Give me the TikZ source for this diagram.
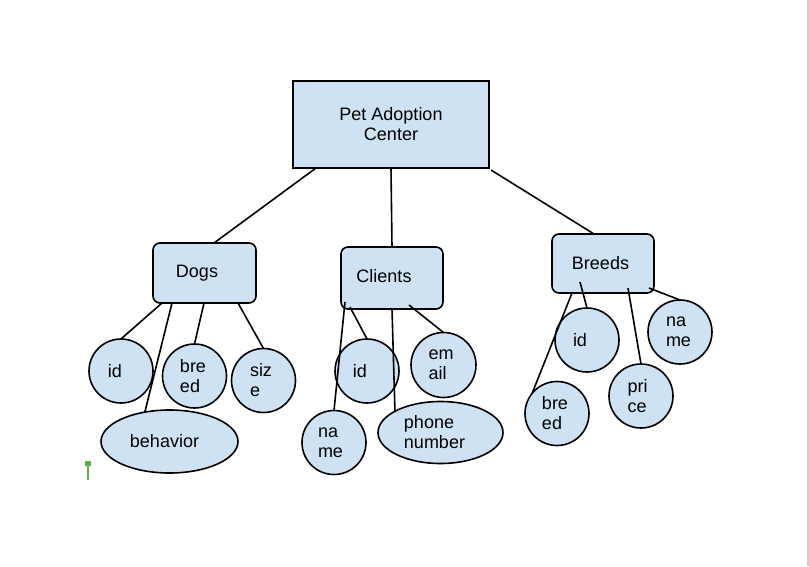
\documentclass[tikz,border=0pt]{standalone}
\usepackage{fontspec}
\setmainfont{Liberation Sans}
\usetikzlibrary{shapes.geometric}
\definecolor{boxfill}{HTML}{CFE2F3}
\definecolor{cursorgreen}{RGB}{88,178,72}
\definecolor{edgegrey}{RGB}{204,204,204}
\newcommand\lsh[1]{\hspace*{#1}}
\begin{document}
\begin{tikzpicture}[x=1pt,y=-1pt,
  every node/.style={font=\fontsize{18}{20}\selectfont, outer sep=0pt},
  rootbox/.style={draw=black, line width=1.6pt, fill=boxfill, minimum width=196pt, minimum height=87pt, align=center, inner sep=0pt},
  entity/.style={draw=black, line width=1.6pt, fill=boxfill, rounded corners=7pt, minimum width=102pt, minimum height=60pt, inner sep=0pt},
  attr/.style={draw=black, line width=1.6pt, fill=boxfill, circle, minimum size=64pt, inner sep=0pt, align=left},
  attrel/.style={draw=black, line width=1.6pt, fill=boxfill, ellipse, inner sep=0pt, align=left},
  link/.style={line width=1.6pt, black}]
\useasboundingbox (0,0) rectangle (809,566);
\fill[white] (0,0) rectangle (809,566);
\draw[edgegrey, line width=2pt] (808,0) -- (808,566);

% main boxes
\node[rootbox] (root) at (391,124.5) {Pet Adoption\\Center};
\node[entity, minimum width=103pt] (dogs) at (204.5,273) {\lsh{-15pt}\raisebox{-1.5pt}{Dogs}};
\node[entity, minimum height=62pt] (cli) at (392,278) {\lsh{-16pt}\raisebox{4pt}{Clients}};
\node[entity, minimum height=59pt] (brd) at (603,263.5) {\lsh{-5pt}\raisebox{-2.5pt}{Breeds}};

% Dogs attributes
\node[attr] (did) at (121,371) {\lsh{-12pt}id};
\node[attr] (dbreed) at (194.5,376) {\lsh{-3pt}bre\\\lsh{-3pt}ed};
\node[attr] (dsize) at (263.5,380.5) {\lsh{-5pt}siz\\\lsh{-5pt}e};
\node[attrel, minimum width=137pt, minimum height=63pt] (dbeh) at (169.5,441.5) {\lsh{-10pt}behavior};

% Clients attributes
\node[attr] (cname) at (334,442.5) {\lsh{-7pt}na\\\lsh{-7pt}me};
\node[attr] (cid) at (367,371) {\lsh{-14pt}id};
\node[attrel, minimum width=125pt, minimum height=62pt] (cphone) at (440.5,432.5) {\lsh{-12pt}phone\\\lsh{-12pt}number};
\node[attr, minimum size=65pt] (cemail) at (443.5,365) {\lsh{-5pt}em\\\lsh{-5pt}ail};

% Breeds attributes
\node[attr] (bid) at (587,340) {\lsh{-14pt}id};
\node[attr] (bbreed) at (557,413.5) {\lsh{-4pt}bre\\\lsh{-4pt}ed};
\node[attr] (bprice) at (641,396) {\lsh{-7pt}pri\\\lsh{-7pt}ce};
\node[attr] (bname) at (680,332) {\lsh{-3pt}na\\\lsh{-3pt}me};

% connectors from root
\draw[link] ([xshift=23pt]root.south west) -- ([xshift=61pt]dogs.north west);
\draw[link] (root.south) -- (cli.north);
\draw[link] ([xshift=2pt,yshift=-2pt]root.south east) -- ([xshift=42pt]brd.north west);

% Dogs connectors
\draw[link] ([xshift=9pt]dogs.south west) -- (did.north);
\draw[link] ([xshift=19pt]dogs.south west) -- (dbeh.130);
\draw[link] ([xshift=51pt]dogs.south west) -- (dbreed.north);
\draw[link] ([xshift=85pt]dogs.south west) -- (dsize.north);

% Clients connectors
\draw[link] ([xshift=4pt,yshift=7pt]cli.south west) -- (cname.north);
\draw[link] ([xshift=9pt,yshift=2pt]cli.south west) -- (cid.north);
\draw[link] (cli.south) -- (cphone.155);
\draw[link] ([xshift=68pt,yshift=4pt]cli.south west) -- (cemail.north);

% Breeds connectors
\draw[link] ([xshift=20pt]brd.south west) -- (bbreed.141);
\draw[link] ([xshift=28pt,yshift=11pt]brd.south west) -- (bid.north);
\draw[link] ([xshift=76pt,yshift=5pt]brd.south west) -- (bprice.north);
\draw[link] ([xshift=97pt,yshift=5pt]brd.south west) -- (bname.north);

% text cursor
\fill[cursorgreen] (85,461) rectangle (91,466);
\fill[cursorgreen] (86.7,461) rectangle (88.7,480);
\end{tikzpicture}
\end{document}
